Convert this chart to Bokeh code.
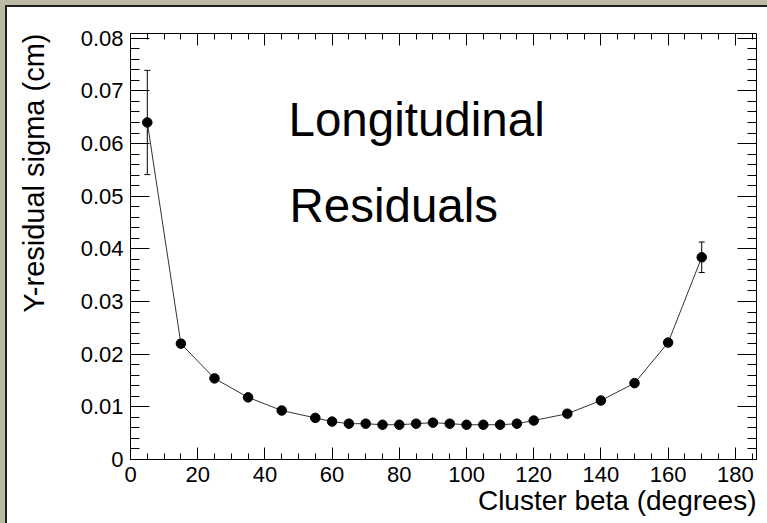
import math
from bokeh.plotting import figure
from bokeh.models import (Range1d, LinearAxis, SingleIntervalTicker, Label, Title,
                          ColumnDataSource, Whisker, TeeHead, CustomJSTickFormatter)
from bokeh.embed import file_html
from bokeh.resources import INLINE

# ---- data ----
beta = [5, 15, 25, 35, 45, 55, 60, 65, 70, 75, 80, 85, 90, 95,
        100, 105, 110, 115, 120, 130, 140, 150, 160, 170]
sigma = [0.0640, 0.0220, 0.0154, 0.0118, 0.0093, 0.0079, 0.0072, 0.0068,
         0.0068, 0.0066, 0.0066, 0.0068, 0.0070, 0.0068, 0.0066, 0.0066,
         0.0066, 0.0068, 0.0074, 0.0087, 0.0112, 0.0145, 0.0222, 0.0384]
sigma_err = [0.0099, 0.0007, 0.0003, 0.0002, 0.0002, 0.0002, 0.0002, 0.0002,
             0.0002, 0.0002, 0.0002, 0.0002, 0.0002, 0.0002, 0.0002, 0.0002,
             0.0002, 0.0002, 0.0002, 0.0002, 0.0003, 0.0004, 0.0006, 0.0029]
x_title = "Cluster beta (degrees)"
y_title = "Y-residual sigma (cm)"
text_lines = ["Longitudinal", "Residuals"]

FONT = "Liberation Sans"
BEIGE = "#bbb9a3"
EDGE = "#1e1e1e"

src = ColumnDataSource(data=dict(
    x=beta, y=sigma,
    upper=[s + e for s, e in zip(sigma, sigma_err)],
    lower=[s - e for s, e in zip(sigma, sigma_err)],
))

p = figure(width=767, height=523, output_backend="svg", toolbar_location=None,
           x_range=Range1d(0, 186.3), y_range=Range1d(0, 0.0809),
           min_border_left=130, min_border_right=11, min_border_top=33,
           min_border_bottom=64, background_fill_color="white",
           border_fill_color=None, outline_line_color=None)
p.xgrid.visible = False
p.ygrid.visible = False

# window look: beige strips with a dark edge on the left and top
p.styles = {
    "background": (
        f"linear-gradient({BEIGE}, {BEIGE}) 0 0 / 100% 5px no-repeat, "
        f"linear-gradient({BEIGE}, {BEIGE}) 0 0 / 5px 100% no-repeat, "
        f"linear-gradient({EDGE}, {EDGE}) 5px 5px / 100% 2px no-repeat, "
        f"linear-gradient({EDGE}, {EDGE}) 5px 5px / 2px 100% no-repeat, "
        "white"
    )
}

p.add_layout(LinearAxis(), "above")
p.add_layout(LinearAxis(), "right")

bottom = p.below[0]
left = p.left[0]
top = p.above[0]
right = p.right[0]

def style(ax, ticker, major, minor, show):
    ax.ticker = ticker
    ax.major_tick_in = major
    ax.major_tick_out = 0
    ax.minor_tick_in = minor
    ax.minor_tick_out = 0
    ax.axis_line_color = "black"
    ax.axis_line_width = 1
    ax.major_tick_line_color = "black"
    ax.minor_tick_line_color = "black"
    ax.major_label_text_font = FONT
    ax.major_label_text_color = "black"
    if show:
        ax.major_label_text_font_size = "22px"
    else:
        ax.major_label_text_font_size = "0px"
        ax.major_label_standoff = 0
        ax.formatter = CustomJSTickFormatter(code="return ''")

style(bottom, SingleIntervalTicker(interval=20, num_minor_ticks=4), 12, 6, True)
style(top, SingleIntervalTicker(interval=20, num_minor_ticks=4), 12, 6, False)
style(left, SingleIntervalTicker(interval=0.01, num_minor_ticks=5), 19, 9, True)
style(right, SingleIntervalTicker(interval=0.01, num_minor_ticks=5), 19, 9, False)
bottom.major_label_standoff = 7
left.major_label_standoff = 7
left.formatter = CustomJSTickFormatter(code="return Math.abs(tick) < 1e-9 ? '0' : tick.toFixed(2)")
bottom.formatter = CustomJSTickFormatter(code="return tick.toFixed(0)")

# axis titles, right-adjusted at the axis ends (side-panel titles)
p.add_layout(Title(text=x_title, align="right", vertical_align="top",
                   standoff=0, offset=0, text_font=FONT, text_font_size="28px",
                   text_font_style="normal", text_color="black"), "below")
p.add_layout(Title(text=" ", standoff=24, text_font_size="1px"), "left")
p.add_layout(Title(text=y_title, align="right", vertical_align="middle",
                   standoff=0, offset=0, text_font=FONT, text_font_size="29px",
                   text_font_style="normal", text_color="black"), "left")

# connecting line, error bars, markers
p.line("x", "y", source=src, line_color="#333333", line_width=1)
p.add_layout(Whisker(base="x", upper="upper", lower="lower", source=src,
                     line_color="black", line_width=1,
                     upper_head=TeeHead(size=6, line_color="black", line_width=1),
                     lower_head=TeeHead(size=6, line_color="black", line_width=1)))
p.scatter("x", "y", source=src, size=9.5, color="black")

# text in the pad
p.add_layout(Label(x=158, y=340, x_units="screen", y_units="screen",
                   text=text_lines[0], text_font=FONT, text_font_size="47.5px",
                   text_color="black", text_baseline="alphabetic"))
p.add_layout(Label(x=159, y=254, x_units="screen", y_units="screen",
                   text=text_lines[1], text_font=FONT, text_font_size="47.5px",
                   text_color="black", text_baseline="alphabetic"))

open("out.html", "w").write(file_html(p, INLINE))
